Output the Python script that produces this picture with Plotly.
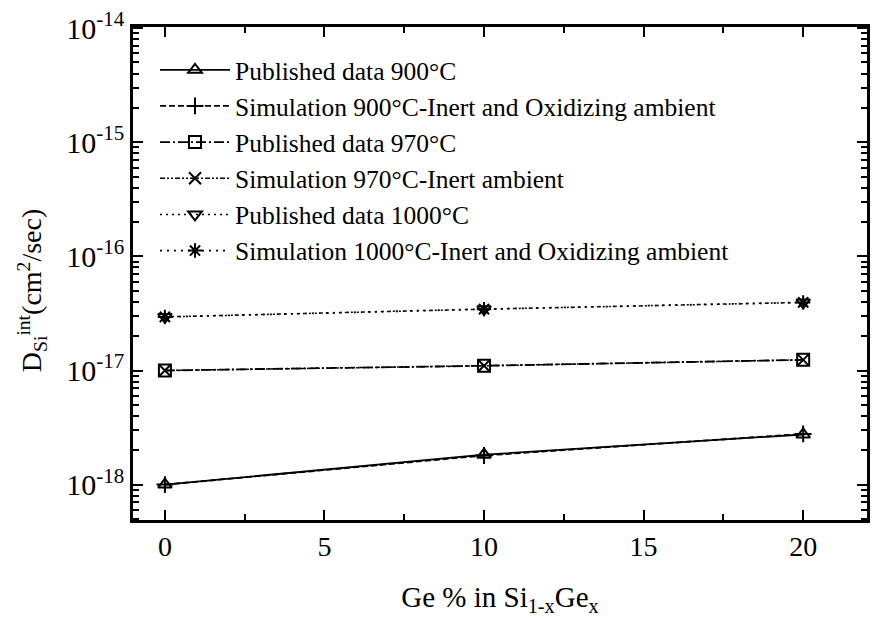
import plotly.graph_objects as go

ge_pct = [0, 10, 20]
pub_900 = [1.0e-18, 1.83e-18, 2.75e-18]
sim_900 = [1.0e-18, 1.80e-18, 2.78e-18]
pub_970 = [1.0e-17, 1.10e-17, 1.24e-17]
sim_970 = [1.0e-17, 1.10e-17, 1.24e-17]
pub_1000 = [2.95e-17, 3.45e-17, 3.95e-17]
sim_1000 = [2.95e-17, 3.45e-17, 3.95e-17]

names = [
    "Published data 900°C",
    "Simulation 900°C-Inert and Oxidizing ambient",
    "Published data 970°C",
    "Simulation 970°C-Inert ambient",
    "Published data 1000°C",
    "Simulation 1000°C-Inert and Oxidizing ambient",
]
series = [pub_900, sim_900, pub_970, sim_970, pub_1000, sim_1000]
dashes = ["solid", "6px,3px", "10px,3px,2px,3px", "5px,2px,2px,2px,2px,2px", "2px,4px", "2px,5px"]
symbols = ["triangle-up-open", "cross-thin", "square-open", "x-thin", "triangle-down-open", "asterisk"]
widths = [1.8, 1.8, 1.8, 1.5, 1.5, 1.8]

decades = [-18, -17, -16, -15, -14]
ytick_vals = [10.0 ** d for d in decades]
ytick_text = [f"10<sup>{d}</sup>" for d in decades]
minor_vals = [m * 10.0 ** d for d in range(-19, -14) for m in range(2, 10)]

fig = go.Figure()
for name, ys, dash, sym, w in zip(names, series, dashes, symbols, widths):
    fig.add_trace(go.Scatter(
        x=ge_pct, y=ys, name=name, mode="lines+markers",
        line=dict(color="black", width=w, dash=dash),
        marker=dict(symbol=sym, size=12, color="black",
                    line=dict(color="black", width=2)),
        legendgroup=name,
    ))

font_family = "Liberation Serif"
fig.update_layout(
    width=872, height=618,
    margin=dict(l=133, r=2, t=27, b=98),
    paper_bgcolor="white", plot_bgcolor="white",
    font=dict(family=font_family, color="black", size=24),
    showlegend=True,
    legend=dict(x=0.03, y=0.96, xanchor="left", yanchor="top",
                bgcolor="rgba(0,0,0,0)", borderwidth=0,
                font=dict(family=font_family, size=25.5, color="black"),
                itemwidth=70, tracegroupgap=0),
    annotations=[dict(
        text="D<sub>Si</sub><sup>int</sup>(cm<sup>2</sup>/sec)",
        xref="paper", yref="paper", x=-0.137, y=0.465,
        xanchor="center", yanchor="middle", textangle=-90, showarrow=False,
        font=dict(family=font_family, size=28, color="black"),
    )],
)
fig.update_xaxes(
    range=[-1, 22], tickvals=[0, 5, 10, 15, 20],
    ticks="inside", ticklen=10, tickwidth=2, tickcolor="black",
    minor=dict(ticks="inside", ticklen=6, tickwidth=2, tickcolor="black", dtick=2.5, tick0=0),
    showline=True, linewidth=2.5, linecolor="black", mirror="ticks",
    showgrid=False, zeroline=False,
    tickfont=dict(family=font_family, size=28, color="black"),
    title=dict(text="Ge % in Si<sub>1-x</sub>Ge<sub>x</sub>",
               font=dict(family=font_family, size=29, color="black"), standoff=26),
)
fig.update_yaxes(
    type="log", range=[-18.31, -13.99],
    tickvals=ytick_vals, ticktext=ytick_text,
    ticks="inside", ticklen=10, tickwidth=2, tickcolor="black",
    minor=dict(ticks="inside", ticklen=6, tickwidth=1.5, tickcolor="black", tickvals=minor_vals),
    showline=True, linewidth=2.5, linecolor="black", mirror="ticks",
    showgrid=False, zeroline=False,
    tickfont=dict(family=font_family, size=30, color="black"),
)

fig.write_html("out.html")
